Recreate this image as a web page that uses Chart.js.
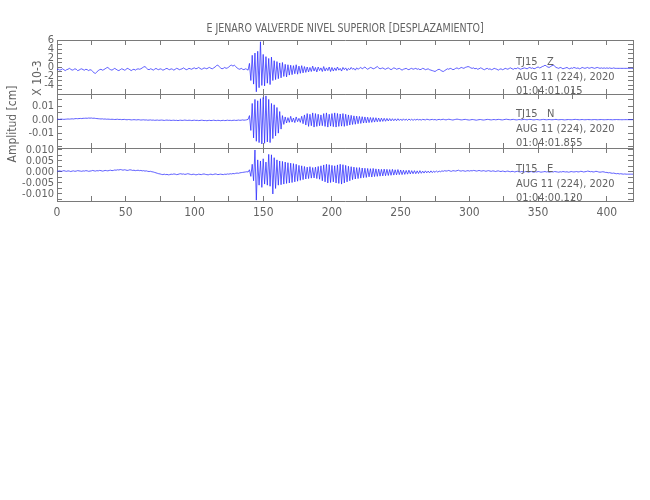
<!DOCTYPE html>
<html>
<head>
<meta charset="utf-8">
<script src="https://cdn.jsdelivr.net/npm/chart.js@4/dist/chart.umd.min.js"></script>
<style>
  body { margin: 0; background: #fff; }
  #wrap { position: relative; width: 650px; height: 500px; overflow: hidden; }
  #wrap canvas { position: absolute; left: 0; top: 0; }
  .txt { position: absolute; font-family: 'DejaVu Sans Condensed', 'Liberation Sans Narrow', 'DejaVu Sans', sans-serif;
         color: #636363; font-size: 11px; line-height: 14.7px; white-space: pre; }
  .rot { transform: translate(-50%, -50%) rotate(-90deg); }
</style>
</head>
<body>
<div id="wrap">
  <canvas id="panelZ" width="650" height="500"></canvas>
  <canvas id="panelN" width="650" height="500"></canvas>
  <canvas id="panelE" width="650" height="500"></canvas>

  <div class="txt" style="left:345px; top:21px; font-size:12px; transform:translateX(-50%) scaleX(0.88);">E JENARO VALVERDE NIVEL SUPERIOR [DESPLAZAMIENTO]</div>
  <div class="txt rot" style="left:12px; top:124px; font-size:12px;">Amplitud [cm]</div>
  <div class="txt rot" style="left:37px; top:78px; font-size:12px;">X 10-3</div>

  <div class="txt" style="left:516px; top:55px;">TJ15   Z
AUG 11 (224), 2020
01:04:01.015</div>
  <div class="txt" style="left:516px; top:107px;">TJ15   N
AUG 11 (224), 2020
01:04:01.855</div>
  <div class="txt" style="left:516px; top:162px;">TJ15   E
AUG 11 (224), 2020
01:04:00.120</div>
</div>
<script>
// sampling of the traces (seconds)
const START = 0;
const DT = 1;
const X_MAX = 419;

// x axis labels (seconds)
const timeTicks = [0, 50, 100, 150, 200, 250, 300, 350, 400];

// left axis labels for each component
const zTicks = [6, 4, 2, 0, -2, -4];          // x 10^-3 cm
const nTicks = [0.01, 0, -0.01];              // cm
const eTicks = [0.010, 0.005, 0, -0.005, -0.010]; // cm

// vertical component, x 10^-3 cm, one value per second
const traceZ = [
  -0.6,-0.5,-0.7,-0.6,-0.4,-0.6,-0.8,-0.6,-0.5,-0.3,-0.5,-0.7,-0.6,-0.4,-0.5,-0.8,-0.7,-0.5,-0.4,-0.6,
  -0.7,-0.5,-0.6,-0.8,-0.6,-0.7,-1.0,-1.3,-1.4,-1.1,-0.8,-0.6,-0.5,-0.7,-0.6,-0.4,-0.2,-0.1,-0.4,-0.6,
  -0.7,-0.5,-0.3,-0.5,-0.7,-0.8,-0.6,-0.4,-0.5,-0.7,-0.6,-0.3,-0.4,-0.6,-0.8,-0.6,-0.5,-0.7,-0.5,-0.4,
  -0.5,-0.4,-0.2,0.0,0.1,-0.2,-0.5,-0.6,-0.4,-0.5,-0.7,-0.5,-0.3,-0.5,-0.6,-0.4,-0.5,-0.7,-0.6,-0.4,
  -0.3,-0.5,-0.6,-0.4,-0.5,-0.7,-0.5,-0.3,-0.4,-0.6,-0.5,-0.4,-0.2,-0.4,-0.6,-0.5,-0.3,-0.4,-0.5,-0.3,
  -0.2,-0.4,-0.3,-0.1,-0.3,-0.5,-0.4,-0.2,-0.3,-0.4,-0.2,-0.1,-0.3,-0.4,-0.2,0.0,0.3,0.4,0.1,-0.2,
  -0.4,-0.3,-0.1,-0.3,-0.2,0.0,0.3,0.4,0.2,0.4,0.1,-0.2,-0.4,-0.5,-0.3,-0.5,-0.6,-0.4,-0.5,-0.7,
  0.8,-3.0,2.6,-3.8,3.1,-5.5,3.5,-4.6,5.6,-4.1,2.8,-4.2,2.3,-3.6,1.9,-3.9,2.2,-3.0,1.4,-2.8,
  1.2,-2.6,0.9,-2.4,1.0,-2.1,0.6,-2.2,0.5,-1.8,0.4,-1.7,0.3,-1.5,0.5,-1.6,0.2,-1.4,0.3,-1.3,
  0.1,-1.2,0.0,-1.1,-0.1,-1.0,0.2,-0.9,-0.1,-1.1,0.0,-0.8,-0.2,-1.0,0.1,-0.9,-0.2,-0.8,0.0,-1.0,
  -0.1,-0.9,-0.2,-0.8,0.0,-0.7,-0.3,-0.9,-0.1,-0.6,-0.2,-0.8,-0.3,-0.6,-0.1,-0.5,-0.3,-0.7,-0.2,-0.5,
  -0.3,-0.1,-0.4,-0.2,0.0,-0.3,-0.5,-0.3,-0.1,-0.2,-0.4,-0.3,-0.1,0.1,-0.2,-0.4,-0.3,-0.2,-0.4,-0.5,
  -0.3,-0.2,-0.4,-0.6,-0.4,-0.2,-0.3,-0.5,-0.4,-0.3,-0.5,-0.7,-0.5,-0.4,-0.3,-0.5,-0.6,-0.4,-0.3,-0.5,
  -0.4,-0.3,-0.5,-0.4,-0.6,-0.5,-0.3,-0.4,-0.6,-0.5,-0.4,-0.6,-0.7,-0.8,-0.9,-1.0,-0.8,-0.6,-0.5,-0.7,
  -0.9,-1.0,-0.8,-0.6,-0.4,-0.5,-0.3,-0.4,-0.6,-0.5,-0.3,-0.2,-0.4,-0.3,-0.1,-0.2,-0.3,-0.1,0.0,0.1,
  0.0,-0.2,-0.3,-0.2,-0.4,-0.3,-0.5,-0.4,-0.2,-0.3,-0.5,-0.6,-0.4,-0.3,-0.5,-0.4,-0.6,-0.5,-0.3,-0.4,
  -0.5,-0.7,-0.5,-0.4,-0.6,-0.5,-0.3,-0.4,-0.5,-0.3,-0.2,-0.4,-0.5,-0.3,-0.4,-0.2,-0.3,-0.5,-0.4,-0.3,
  -0.2,-0.3,-0.4,-0.2,-0.1,-0.3,-0.2,-0.4,-0.3,-0.1,0.0,-0.2,-0.1,0.1,0.2,0.4,0.2,0.0,-0.1,0.1,
  0.3,0.4,0.2,-0.1,-0.2,-0.3,-0.1,-0.2,-0.4,-0.3,-0.2,-0.1,-0.3,-0.4,-0.2,-0.3,-0.1,-0.2,-0.3,-0.2,
  -0.4,-0.3,-0.1,-0.2,-0.3,-0.2,-0.1,-0.3,-0.2,-0.1,-0.2,-0.3,-0.2,-0.1,-0.2,-0.3,-0.2,-0.3,-0.2,-0.3,
  -0.2,-0.3,-0.2,-0.3,-0.3,-0.2,-0.3,-0.3,-0.3,-0.3,-0.3,-0.3,-0.3,-0.3,-0.3,-0.3,-0.3,-0.3,-0.3,-0.3
];

// north component, cm
const traceN = [
  0.0002,0.0003,0.0002,0.0004,0.0003,0.0002,0.0003,0.0004,0.0005,0.0004,0.0005,0.0006,0.0005,0.0007,0.0008,0.0007,0.0008,0.0009,0.0008,0.0010,
  0.0010,0.0011,0.0010,0.0012,0.0011,0.0012,0.0010,0.0011,0.0009,0.0008,0.0007,0.0006,0.0005,0.0006,0.0004,0.0005,0.0003,0.0004,0.0003,0.0002,
  0.0003,0.0002,0.0001,0.0002,0.0003,0.0001,0.0002,0.0000,0.0001,0.0002,0.0000,-0.0001,0.0001,0.0000,-0.0002,-0.0001,0.0000,-0.0001,-0.0002,0.0000,
  -0.0001,-0.0003,-0.0002,-0.0001,-0.0003,-0.0002,-0.0004,-0.0003,-0.0002,-0.0004,-0.0003,-0.0005,-0.0004,-0.0003,-0.0005,-0.0004,-0.0003,-0.0004,-0.0006,-0.0004,
  -0.0003,-0.0005,-0.0004,-0.0006,-0.0005,-0.0004,-0.0006,-0.0005,-0.0007,-0.0005,-0.0004,-0.0006,-0.0005,-0.0003,-0.0005,-0.0006,-0.0004,-0.0005,-0.0007,-0.0005,
  -0.0004,-0.0006,-0.0005,-0.0007,-0.0006,-0.0004,-0.0005,-0.0007,-0.0006,-0.0008,-0.0006,-0.0005,-0.0007,-0.0006,-0.0004,-0.0006,-0.0007,-0.0005,-0.0006,-0.0008,
  -0.0006,-0.0005,-0.0007,-0.0006,-0.0004,-0.0006,-0.0005,-0.0007,-0.0005,-0.0004,-0.0006,-0.0005,-0.0003,-0.0005,-0.0004,-0.0002,-0.0004,-0.0003,-0.0001,0.0002,
  0.0030,-0.0080,0.0120,-0.0135,0.0150,-0.0160,0.0140,-0.0170,0.0155,-0.0180,0.0165,-0.0175,0.0176,-0.0165,0.0150,-0.0170,0.0120,-0.0140,0.0110,-0.0120,
  0.0090,-0.0100,0.0060,-0.0070,0.0030,-0.0035,0.0020,-0.0025,0.0015,-0.0020,0.0025,-0.0018,0.0012,-0.0022,0.0020,-0.0015,0.0010,-0.0020,0.0025,-0.0030,
  0.0035,-0.0040,0.0045,-0.0050,0.0040,-0.0045,0.0050,-0.0055,0.0045,-0.0050,0.0040,-0.0045,0.0035,-0.0045,0.0045,-0.0050,0.0050,-0.0055,0.0040,-0.0048,
  0.0045,-0.0052,0.0050,-0.0055,0.0046,-0.0050,0.0042,-0.0048,0.0045,-0.0050,0.0040,-0.0045,0.0035,-0.0040,0.0032,-0.0036,0.0028,-0.0034,0.0026,-0.0030,
  0.0024,-0.0028,0.0022,-0.0025,0.0020,-0.0024,0.0018,-0.0022,0.0016,-0.0020,0.0015,-0.0018,0.0014,-0.0016,0.0012,-0.0015,0.0011,-0.0013,0.0010,-0.0012,
  0.0009,-0.0010,0.0008,-0.0009,0.0007,-0.0008,0.0006,-0.0008,0.0007,-0.0006,0.0005,-0.0007,0.0006,-0.0005,0.0004,-0.0006,0.0005,-0.0004,0.0003,-0.0005,
  0.0002,-0.0003,0.0003,-0.0002,0.0001,-0.0003,0.0002,0.0000,-0.0002,0.0003,0.0001,-0.0002,0.0000,0.0002,-0.0001,0.0001,-0.0003,0.0000,0.0002,-0.0001,
  0.0001,0.0003,0.0000,-0.0002,0.0001,0.0003,0.0001,-0.0001,-0.0003,0.0000,0.0002,0.0004,0.0002,0.0000,-0.0002,-0.0001,0.0001,0.0002,0.0000,-0.0002,
  -0.0003,-0.0001,0.0001,0.0000,-0.0002,-0.0004,-0.0002,0.0000,0.0001,-0.0001,-0.0003,-0.0002,0.0000,0.0002,0.0001,-0.0001,-0.0002,0.0000,0.0001,-0.0001,
  0.0000,0.0002,0.0001,-0.0001,-0.0002,0.0000,0.0002,0.0003,0.0001,0.0000,-0.0001,0.0001,0.0002,0.0000,-0.0002,-0.0001,0.0001,0.0000,-0.0001,0.0001,
  0.0002,0.0000,-0.0001,0.0001,0.0002,0.0001,-0.0001,-0.0002,0.0000,0.0001,0.0000,-0.0002,-0.0001,0.0001,0.0002,0.0000,-0.0001,0.0000,0.0001,0.0000,
  -0.0001,0.0000,0.0001,0.0002,0.0000,-0.0001,0.0000,0.0001,0.0000,-0.0002,-0.0001,0.0000,0.0001,0.0000,-0.0001,0.0000,0.0001,0.0002,0.0001,0.0000,
  -0.0001,0.0000,0.0001,0.0000,-0.0001,0.0000,0.0001,0.0000,0.0000,-0.0001,0.0000,0.0001,0.0000,-0.0001,0.0000,0.0000,0.0001,0.0000,-0.0001,0.0000,
  0.0000,0.0001,0.0000,0.0000,-0.0001,0.0000,0.0000,0.0001,0.0000,0.0000,0.0000,-0.0001,0.0000,0.0000,0.0000,0.0000,0.0000,0.0000,0.0000,0.0000
];

// east component, cm
const traceE = [
  0.0003,0.0004,0.0005,0.0003,0.0004,0.0006,0.0004,0.0003,0.0005,0.0004,0.0002,0.0004,0.0005,0.0003,0.0004,0.0006,0.0005,0.0004,0.0003,0.0005,
  0.0004,0.0006,0.0005,0.0003,0.0004,0.0005,0.0007,0.0005,0.0004,0.0006,0.0005,0.0007,0.0006,0.0004,0.0005,0.0007,0.0006,0.0005,0.0007,0.0008,
  0.0006,0.0007,0.0009,0.0008,0.0010,0.0009,0.0011,0.0010,0.0008,0.0010,0.0009,0.0007,0.0008,0.0010,0.0009,0.0007,0.0008,0.0006,0.0007,0.0008,
  0.0006,0.0007,0.0005,0.0006,0.0004,0.0005,0.0003,0.0002,0.0003,0.0001,0.0000,-0.0002,-0.0004,-0.0006,-0.0008,-0.0009,-0.0011,-0.0012,-0.0010,-0.0012,
  -0.0011,-0.0013,-0.0012,-0.0010,-0.0011,-0.0009,-0.0010,-0.0012,-0.0011,-0.0009,-0.0008,-0.0010,-0.0009,-0.0011,-0.0010,-0.0008,-0.0009,-0.0011,-0.0012,-0.0010,
  -0.0011,-0.0013,-0.0012,-0.0010,-0.0011,-0.0012,-0.0010,-0.0009,-0.0011,-0.0012,-0.0013,-0.0011,-0.0010,-0.0012,-0.0011,-0.0009,-0.0010,-0.0012,-0.0011,-0.0010,
  -0.0011,-0.0012,-0.0010,-0.0011,-0.0009,-0.0010,-0.0008,-0.0009,-0.0007,-0.0008,-0.0006,-0.0005,-0.0006,-0.0004,-0.0003,-0.0002,-0.0001,0.0000,0.0001,0.0000,
  0.0010,-0.0020,0.0035,-0.0040,0.0100,-0.0128,0.0055,-0.0060,0.0050,-0.0070,0.0060,-0.0055,0.0045,-0.0060,0.0080,-0.0065,0.0078,-0.0100,0.0065,-0.0075,
  0.0055,-0.0060,0.0050,-0.0058,0.0048,-0.0055,0.0045,-0.0052,0.0042,-0.0050,0.0040,-0.0048,0.0038,-0.0045,0.0035,-0.0042,0.0030,-0.0038,0.0028,-0.0035,
  0.0025,-0.0032,0.0022,-0.0030,0.0024,-0.0028,0.0020,-0.0027,0.0022,-0.0030,0.0025,-0.0033,0.0028,-0.0040,0.0032,-0.0045,0.0035,-0.0050,0.0033,-0.0048,
  0.0030,-0.0045,0.0028,-0.0050,0.0032,-0.0052,0.0035,-0.0055,0.0033,-0.0050,0.0030,-0.0045,0.0026,-0.0040,0.0024,-0.0035,0.0022,-0.0032,0.0020,-0.0030,
  0.0020,-0.0028,0.0018,-0.0026,0.0017,-0.0025,0.0016,-0.0022,0.0015,-0.0023,0.0016,-0.0021,0.0014,-0.0020,0.0013,-0.0019,0.0012,-0.0018,0.0013,-0.0017,
  0.0012,-0.0016,0.0011,-0.0015,0.0012,-0.0014,0.0010,-0.0013,0.0011,-0.0012,0.0009,-0.0012,0.0008,-0.0011,0.0007,-0.0010,0.0008,-0.0009,0.0006,-0.0008,
  0.0006,-0.0008,0.0005,-0.0007,0.0006,-0.0006,0.0004,-0.0005,0.0005,-0.0004,0.0004,-0.0004,0.0005,-0.0003,0.0004,-0.0002,0.0005,-0.0001,0.0004,0.0001,
  0.0005,0.0003,0.0006,0.0004,0.0005,0.0007,0.0004,0.0003,0.0006,0.0005,0.0004,0.0006,0.0008,0.0005,0.0004,0.0006,0.0005,0.0003,0.0005,0.0006,
  0.0004,0.0006,0.0005,0.0007,0.0006,0.0004,0.0005,0.0007,0.0005,0.0004,0.0006,0.0005,0.0003,0.0005,0.0006,0.0004,0.0003,0.0005,0.0004,0.0002,
  0.0004,0.0005,0.0003,0.0002,0.0004,0.0003,0.0001,0.0003,0.0004,0.0002,0.0001,0.0003,0.0002,0.0000,0.0002,0.0003,0.0001,0.0000,0.0002,0.0001,
  0.0000,0.0002,0.0001,-0.0001,0.0001,0.0002,0.0000,-0.0001,0.0001,0.0000,0.0002,0.0001,-0.0001,0.0000,0.0001,0.0002,0.0000,0.0001,-0.0001,0.0000,
  0.0001,0.0000,0.0002,0.0001,0.0000,-0.0001,0.0001,0.0000,0.0002,0.0001,0.0000,0.0001,-0.0001,0.0000,0.0002,0.0001,0.0000,0.0001,0.0002,0.0000,
  0.0001,0.0003,0.0002,0.0000,0.0001,0.0002,0.0004,0.0003,0.0001,0.0002,0.0000,0.0001,0.0003,0.0002,0.0000,-0.0001,0.0000,0.0001,0.0000,-0.0002,
  -0.0002,-0.0004,-0.0003,-0.0005,-0.0006,-0.0005,-0.0007,-0.0008,-0.0007,-0.0009,-0.0008,-0.0009,-0.0010,-0.0009,-0.0010,-0.0010,-0.0010,-0.0010,-0.0010,-0.0010
];

const FONT = "'DejaVu Sans Condensed', 'Liberation Sans Narrow', 'DejaVu Sans', sans-serif";
const INK = '#636363';
const FRAME = '#7a7a7a';

function stepTicks(min, max, step) {
  const out = [];
  for (let k = Math.ceil(min / step - 1e-9); k * step <= max + 1e-9; k++) {
    out.push({ value: +(k * step).toFixed(6) });
  }
  return out;
}

function makePanel(id, values, yMin, yMax, yStep, yLabels, digits, top, bottom, showTime) {
  const points = values.map((v, i) => ({ x: START + i * DT, y: v }));
  const xHeight = showTime ? 22 : 0;

  const grid = { display: true, drawOnChartArea: false, drawTicks: true, tickLength: -5, color: FRAME };
  const border = { display: true, color: FRAME, width: 1 };

  const yLabel = value => {
    const hit = yLabels.find(l => Math.abs(l - value) < yStep / 10);
    return hit === undefined ? '' : hit.toFixed(digits);
  };
  const xLabel = value => timeTicks.includes(value) ? String(value) : '';

  new Chart(document.getElementById(id), {
    type: 'line',
    data: {
      datasets: [{
        data: points,
        borderColor: '#2a2aff',
        borderWidth: 0.75,
        pointRadius: 0,
        tension: 0,
        fill: false
      }]
    },
    options: {
      responsive: false,
      animation: false,
      layout: { padding: { left: 7, right: 17, top: top, bottom: 500 - bottom - xHeight } },
      plugins: { legend: { display: false }, tooltip: { enabled: false } },
      scales: {
        x: {
          type: 'linear', position: 'bottom', min: 0, max: X_MAX,
          grid: grid, border: border,
          afterBuildTicks: s => { s.ticks = stepTicks(0, X_MAX, 25); },
          afterFit: s => { s.height = xHeight; },
          ticks: { display: showTime, autoSkip: false, maxRotation: 0, padding: 10,
                   color: INK, font: { family: FONT, size: 12 }, callback: xLabel }
        },
        x2: {
          type: 'linear', position: 'top', min: 0, max: X_MAX,
          grid: grid, border: border,
          afterBuildTicks: s => { s.ticks = stepTicks(0, X_MAX, 25); },
          afterFit: s => { s.height = 0; },
          ticks: { display: false }
        },
        y: {
          type: 'linear', position: 'left', min: yMin, max: yMax,
          grid: grid, border: border,
          afterBuildTicks: s => { s.ticks = stepTicks(yMin, yMax, yStep); },
          afterFit: s => { s.width = 50; },
          ticks: { autoSkip: false, padding: 8, color: INK,
                   font: { family: FONT, size: 11 }, callback: yLabel }
        },
        y2: {
          type: 'linear', position: 'right', min: yMin, max: yMax,
          grid: grid, border: border,
          afterBuildTicks: s => { s.ticks = stepTicks(yMin, yMax, yStep); },
          afterFit: s => { s.width = 0; },
          ticks: { display: false }
        }
      }
    }
  });
}

makePanel('panelZ', traceZ, -6, 6, 1, zTicks, 0, 40, 94, false);
makePanel('panelN', traceN, -0.021, 0.019, 0.005, nTicks, 2, 94, 148, false);
makePanel('panelE', traceE, -0.0132, 0.0109, 0.0025, eTicks, 3, 148, 201, true);
</script>
</body>
</html>
